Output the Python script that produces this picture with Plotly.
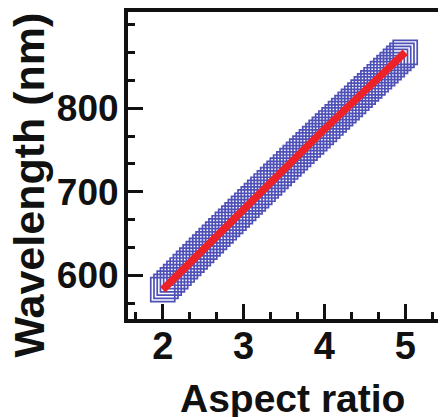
import plotly.graph_objects as go

aspect_ratio = [2.00, 2.04, 2.08, 2.12, 2.16, 2.20, 2.24, 2.28, 2.32, 2.36,
                2.40, 2.44, 2.48, 2.52, 2.56, 2.60, 2.64, 2.68, 2.72, 2.76,
                2.80, 2.84, 2.88, 2.92, 2.96, 3.00, 3.04, 3.08, 3.12, 3.16,
                3.20, 3.24, 3.28, 3.32, 3.36, 3.40, 3.44, 3.48, 3.52, 3.56,
                3.60, 3.64, 3.68, 3.72, 3.76, 3.80, 3.84, 3.88, 3.92, 3.96,
                4.00, 4.04, 4.08, 4.12, 4.16, 4.20, 4.24, 4.28, 4.32, 4.36,
                4.40, 4.44, 4.48, 4.52, 4.56, 4.60, 4.64, 4.68, 4.72, 4.76,
                4.80, 4.84, 4.88, 4.92, 4.96, 5.00]
wavelength = [583.0, 586.9, 590.9, 594.8, 598.7, 602.7, 606.6, 610.5, 614.4, 618.3,
              622.2, 626.1, 630.0, 633.9, 637.8, 641.6, 645.5, 649.4, 653.3, 657.1,
              661.0, 664.8, 668.7, 672.5, 676.4, 680.2, 684.0, 687.9, 691.7, 695.5,
              699.3, 703.1, 707.0, 710.8, 714.6, 718.4, 722.1, 725.9, 729.7, 733.5,
              737.3, 741.0, 744.8, 748.6, 752.3, 756.1, 759.8, 763.6, 767.3, 771.1,
              774.8, 778.5, 782.3, 786.0, 789.7, 793.4, 797.1, 800.8, 804.5, 808.2,
              811.9, 815.6, 819.3, 823.0, 826.6, 830.3, 834.0, 837.6, 841.3, 844.9,
              848.6, 852.2, 855.9, 859.5, 863.2, 866.8]

x_ticks = [2, 3, 4, 5]
y_ticks = [600, 700, 800]

FONT = "Liberation Sans"
INK = "#111"

fig = go.Figure()
fig.add_trace(go.Scatter(
    x=aspect_ratio, y=wavelength, mode="markers",
    marker=dict(symbol="square-open", size=24, color="rgb(78,80,184)",
                line=dict(width=1.7, color="rgb(78,80,184)")),
    showlegend=False))
fig.add_trace(go.Scatter(
    x=aspect_ratio, y=wavelength, mode="lines",
    line=dict(color="rgb(236,34,40)", width=7.5),
    showlegend=False))

axis_common = dict(showline=True, linecolor=INK, linewidth=4, mirror=True,
                   ticks="inside", ticklen=15, tickwidth=3, tickcolor=INK,
                   showgrid=False, zeroline=False, automargin=False)

fig.update_xaxes(range=[1.57, 5.48], tickvals=x_ticks,
                 ticktext=[str(v) for v in x_ticks],
                 tickfont=dict(family=FONT, size=38, color=INK, weight="bold"),
                 minor=dict(dtick=1/3, tick0=2, ticks="inside", ticklen=7,
                            tickwidth=3, tickcolor=INK),
                 ticklabelstandoff=-10,
                 **axis_common)
fig.update_yaxes(range=[548, 915], tickvals=y_ticks,
                 ticktext=[str(v) for v in y_ticks],
                 tickfont=dict(family=FONT, size=37, color=INK, weight="bold"),
                 minor=dict(dtick=100/3, tick0=600, ticks="inside", ticklen=7,
                            tickwidth=3, tickcolor=INK),
                 ticklabelstandoff=-2,
                 **axis_common)

fig.add_annotation(text="Wavelength (nm)", textangle=-90, xref="paper", yref="paper",
                   x=0, y=0.435, xanchor="center", yanchor="middle", xshift=-99,
                   showarrow=False,
                   font=dict(family=FONT, size=43, color=INK, weight="bold"))
fig.add_annotation(text="Aspect ratio", xref="paper", yref="paper",
                   x=0.52, y=0, xanchor="center", yanchor="middle", yshift=-79,
                   showarrow=False,
                   font=dict(family=FONT, size=39, color=INK, weight="bold"))

fig.update_layout(width=438, height=409,
                  margin=dict(l=120, r=2, t=4, b=98),
                  paper_bgcolor="white", plot_bgcolor="white")

fig.write_html("out.html")
